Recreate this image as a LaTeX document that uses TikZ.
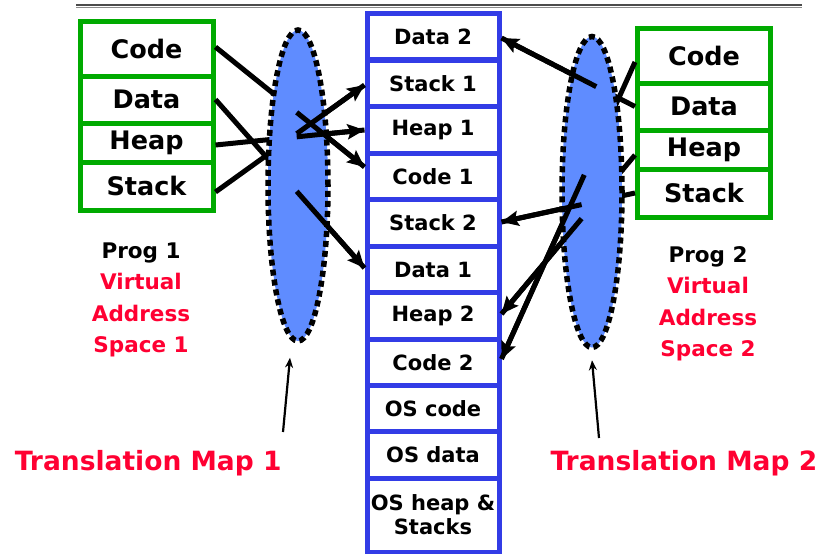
\documentclass[tikz,border=0pt]{standalone}
\usepackage{fontspec}
\setmainfont{DejaVu Sans}
\usetikzlibrary{shapes.geometric,arrows.meta,calc}
\definecolor{cgreen}{RGB}{0,170,0}
\definecolor{cblue}{RGB}{50,60,230}
\definecolor{cfill}{RGB}{95,140,255}
\definecolor{cred}{RGB}{255,0,50}
\begin{document}
\begin{tikzpicture}[x=1pt,y=-1pt,
 gcell/.style={draw=cgreen, line width=5pt, fill=white, minimum width=133pt, inner sep=0pt, font=\bfseries\fontsize{25.5}{25}\selectfont},
 mcell/.style={draw=cblue, line width=5pt, fill=white, minimum width=132pt, minimum height=46.5pt, inner sep=0pt, font=\bfseries\fontsize{21}{24}\selectfont, align=center},
 tmapshape/.style={ellipse, draw=black, fill=cfill, line width=5.5pt, dash pattern=on 6pt off 4pt, minimum width=60pt, minimum height=311pt, inner sep=0pt},
 link/.style={line width=5pt},
 arr/.style={line width=5pt, -{Stealth[length=17pt,width=15pt,inset=3pt]}},
 thinarr/.style={line width=2.2pt, -{Stealth[length=10pt,width=8pt]}},
 lbl/.style={font=\bfseries\fontsize{21.5}{31.5}\selectfont, align=center},
 tmap/.style={font=\bfseries\fontsize{26.5}{30}\selectfont, text=cred}
]
\useasboundingbox (0,0) rectangle (823,554);
% top rule
\draw[line width=2pt, black!70] (76,4.5) -- (802,4.5);
\draw[line width=1pt, black!45] (76,7.5) -- (802,7.5);

% left program boxes
\node[gcell, minimum height=55pt] (lcode)  at (146.5,48.5)  {Code};
\node[gcell, minimum height=47pt] (ldata)  at (146.5,99.5)  {Data};
\node[gcell, minimum height=39pt] (lheap)  at (146.5,142.5) {Heap};
\node[gcell, minimum height=48pt] (lstack) at (146.5,186)   {Stack};

% right program boxes
\node[gcell, minimum height=55pt] (rcode)  at (704,55.5)  {Code};
\node[gcell, minimum height=47pt] (rdata)  at (704,106.5) {Data};
\node[gcell, minimum height=39pt] (rheap)  at (704,149.5) {Heap};
\node[gcell, minimum height=48pt] (rstack) at (704,193)   {Stack};

% physical memory column
\node[mcell] (m1)  at (433,36.5)  {Data 2};
\node[mcell] (m2)  at (433,83.5)  {Stack 1};
\node[mcell] (m3)  at (433,130)   {Heap 1};
\node[mcell] (m4)  at (433,176.5) {Code 1};
\node[mcell] (m5)  at (433,223)   {Stack 2};
\node[mcell] (m6)  at (433,269.5) {Data 1};
\node[mcell] (m7)  at (433,316)   {Heap 2};
\node[mcell] (m8)  at (433,362.5) {Code 2};
\node[mcell] (m9)  at (433,409)   {OS code};
\node[mcell] (m10) at (433,455)   {OS data};
\node[mcell, minimum height=74pt] (m11) at (433,515) {OS heap \&\\Stacks};

% source/target points
\coordinate (sLc) at ([yshift=1.5pt]lcode.east);
\coordinate (sLd) at (ldata.east);
\coordinate (sLh) at ([yshift=-2.5pt]lheap.east);
\coordinate (sLs) at ([yshift=-6pt]lstack.east);
\coordinate (tLc) at ([yshift=9.5pt]m4.west);
\coordinate (tLd) at ([yshift=1.5pt]m6.west);
\coordinate (tLh) at (m3.west);
\coordinate (tLs) at ([yshift=-1.5pt]m2.west);

\coordinate (sRc) at ([yshift=-6.5pt]rcode.west);
\coordinate (sRd) at (rdata.west);
\coordinate (sRh) at ([yshift=-5.5pt]rheap.west);
\coordinate (sRs) at (rstack.west);
\coordinate (tRc) at ([yshift=3.5pt]m8.east);
\coordinate (tRd) at ([yshift=-1.5pt]m1.east);
\coordinate (tRh) at ([yshift=2pt]m7.east);
\coordinate (tRs) at ([yshift=1pt]m5.east);

% lines hidden behind the maps
\draw[link] (sLc) -- (tLc);
\draw[link] (sLd) -- (tLd);
\draw[link] (sLh) -- (tLh);
\draw[link] (sLs) -- (tLs);
\draw[link] (sRc) -- (tRc);
\draw[link] (sRd) -- (tRd);
\draw[link] (sRh) -- (tRh);
\draw[link] (sRs) -- (tRs);

% translation maps
\node[tmapshape] (e1) at (298,185.5) {};
\node[tmapshape] (e2) at (592,192) {};

% visible continuations
\draw[arr] ($(sLc)!0.545!(tLc)$) -- (tLc);
\draw[arr] ($(sLd)!0.545!(tLd)$) -- (tLd);
\draw[arr] ($(sLh)!0.545!(tLh)$) -- (tLh);
\draw[arr] ($(sLs)!0.545!(tLs)$) -- (tLs);
\draw[arr] ($(sRd)!0.29!(tRd)$) -- (tRd);
\draw[arr] ($(sRc)!0.38!(tRc)$) -- (tRc);
\draw[arr] ($(sRh)!0.40!(tRh)$) -- (tRh);
\draw[arr] ($(sRs)!0.40!(tRs)$) -- (tRs);

% program labels
\node[lbl] (p1) at (141,300) {Prog 1\\\textcolor{cred}{Virtual}\\\textcolor{cred}{Address}\\\textcolor{cred}{Space 1}};
\node[lbl] (p2) at (708,304) {Prog 2\\\textcolor{cred}{Virtual}\\\textcolor{cred}{Address}\\\textcolor{cred}{Space 2}};

% translation map labels
\node[tmap, anchor=east] (tm1) at (285,463) {Translation Map 1};
\node[tmap, anchor=west] (tm2) at (547,463) {Translation Map 2};
\coordinate (a1) at (283,432);
\coordinate (a2) at (599,438);
\draw[thinarr] (a1) -- ([xshift=-8pt,yshift=-14pt]e1.south);
\draw[thinarr] (a2) -- ([yshift=-10pt]e2.south);
\end{tikzpicture}
\end{document}
